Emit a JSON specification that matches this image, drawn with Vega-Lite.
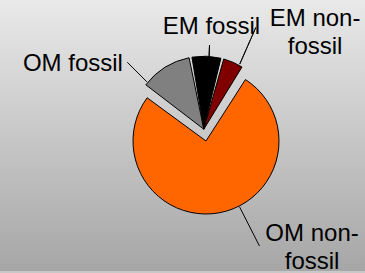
{
  "$schema": "https://vega.github.io/schema/vega-lite/v6.json",
  "width": 365,
  "height": 273,
  "autosize": {"type": "fit", "contains": "padding"},
  "padding": 0,
  "background": "#c8c8c8",
  "view": {
    "stroke": null,
    "fill": {
      "gradient": "linear",
      "x1": 0, "y1": 0, "x2": 0, "y2": 1,
      "stops": [
        {"offset": 0, "color": "#e9e9e9"},
        {"offset": 1, "color": "#a6a6a6"}
      ]
    }
  },
  "data": {
    "values": [
      {"component": "OM non-fossil", "value": 76, "label": "OM non-\nfossil"},
      {"component": "OM fossil", "value": 12, "label": "OM fossil"},
      {"component": "EM fossil", "value": 7, "label": "EM fossil"},
      {"component": "EM non-fossil", "value": 5, "label": "EM non-\nfossil"}
    ]
  },
  "encoding": {
    "theta": {"field": "value", "type": "quantitative", "stack": true, "scale": {"range": [0.5707, 6.8539]}},
    "order": {"field": "value", "type": "quantitative", "sort": "descending"}
  },
  "layer": [
    {
      "mark": {
        "type": "arc",
        "x": {"expr": "width/2+23.5+(datum.component==='OM non-fossil'?0:-2.2)"},
        "y": {"expr": "height/2+5.5+(datum.component==='OM non-fossil'?0:-11.8)"},
        "stroke": "#000000",
        "strokeWidth": 1,
        "radius": 73,
        "padAngle": {"expr": "datum.component==='OM non-fossil'?0:0.04"}
      },
      "encoding": {
        "color": {
          "field": "component",
          "type": "nominal",
          "scale": {
            "domain": ["OM non-fossil", "OM fossil", "EM fossil", "EM non-fossil"],
            "range": ["#ff6600", "#808080", "#000000", "#800000"]
          },
          "legend": null
        }
      }
    },
    {
      "mark": {
        "type": "arc",
        "x": {"expr": "width/2+23.5"},
        "y": {"expr": "height/2+5.5"},
        "fill": null,
        "stroke": "#000000",
        "strokeWidth": 1,
        "padAngle": 3.1416,
        "radius": {"expr": "datum.component==='OM fossil'?111:datum.component==='EM fossil'?96:datum.component==='EM non-fossil'?124:118"},
        "radius2": {"expr": "datum.component==='OM fossil'?84:datum.component==='EM fossil'?85:datum.component==='EM non-fossil'?84:74"},
        "thetaOffset": {"expr": "datum.component==='OM fossil'?-0.225:datum.component==='OM non-fossil'?0.529:0"},
        "strokeDash": {"expr": "datum.component==='OM non-fossil'?[0,192.8,44,3000]:[1,0]"}
      }
    },
    {
      "mark": {
        "type": "text",
        "x": {"expr": "width/2+23.5"},
        "y": {"expr": "height/2+5.5"},
        "font": "Liberation Sans",
        "fontSize": 24,
        "lineHeight": 28,
        "lineBreak": "\n",
        "color": "#000000",
        "baseline": "alphabetic",
        "align": {"expr": "datum.component==='OM fossil'?'right':'center'"},
        "radius": {"expr": "datum.component==='EM fossil'?107:datum.component==='OM fossil'?108.6:datum.component==='EM non-fossil'?158.4:145.7"},
        "thetaOffset": {"expr": "datum.component==='EM fossil'?0.014:datum.component==='OM fossil'?-0.311:datum.component==='EM non-fossil'?0.346:-0.632"}
      },
      "encoding": {
        "text": {"field": "label", "type": "nominal"}
      }
    }
  ]
}
